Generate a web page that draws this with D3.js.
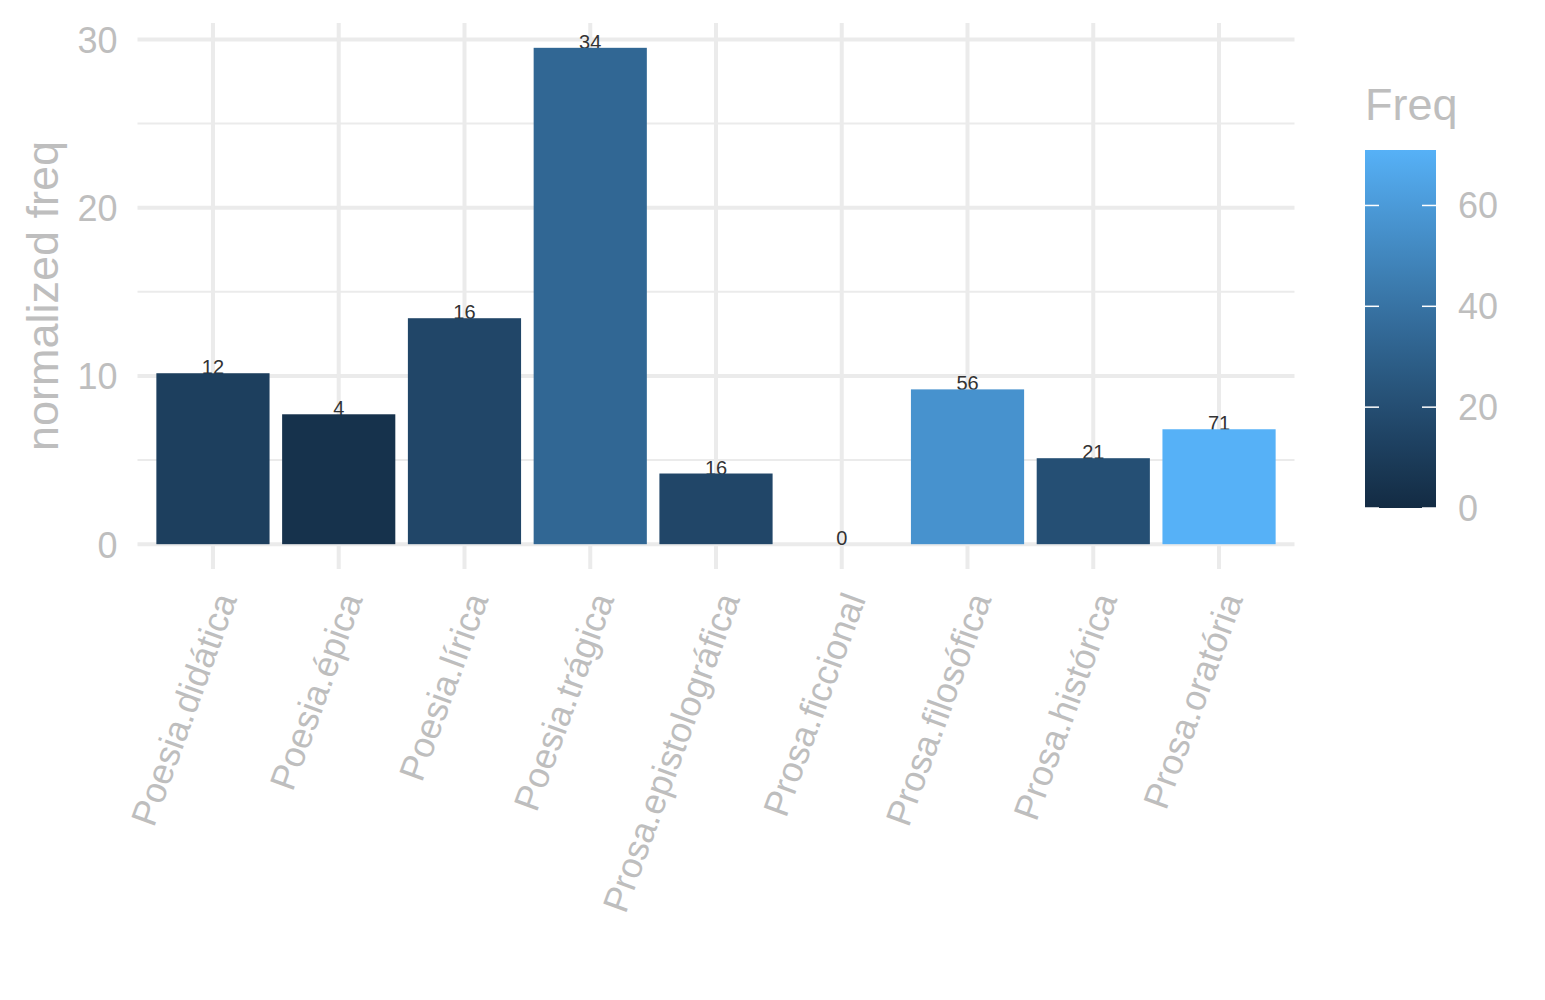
<!DOCTYPE html>
<html lang="pt">
<head>
<meta charset="UTF-8">
<title>normalized freq</title>
<script src="https://d3js.org/d3.v7.min.js"></script>
<style>
  body { margin: 0; background: #fff; }
  text { font-family: "Liberation Sans", Arial, sans-serif; }
</style>
</head>
<body>
<div id="chart"></div>
<script>
// data
var categories = ["Poesia.didática", "Poesia.épica", "Poesia.lírica", "Poesia.trágica",
                  "Prosa.epistolográfica", "Prosa.ficcional", "Prosa.filosófica",
                  "Prosa.histórica", "Prosa.oratória"];
var normFreq = [10.16, 7.72, 13.43, 29.5, 4.2, 0, 9.2, 5.11, 6.83];
var freq = [12, 4, 16, 34, 16, 0, 56, 21, 71];
var yTicks = [0, 10, 20, 30];
var yMinorTicks = [5, 15, 25];
var legendTicks = [0, 20, 40, 60];

var width = 1545, height = 1000;
var panel = { left: 137.5, right: 1294.5, top: 23, bottom: 569 };
var textGrey = "#bebebe", gridGrey = "#ebebeb";

var svg = d3.select("#chart").append("svg")
    .attr("width", width)
    .attr("height", height);

// ggplot-like expansion: 0.6 band on each side for discrete, 5% for continuous
var x = d3.scaleBand()
    .domain(categories)
    .range([panel.left, panel.right])
    .paddingInner(0.1)
    .paddingOuter(0.15);

var yMax = d3.max(normFreq);
var y = d3.scaleLinear()
    .domain([-0.05 * yMax, yMax * 1.05])
    .range([panel.bottom, panel.top]);

var color = d3.scaleLinear()
    .domain([0, d3.max(freq)])
    .range(["#132B43", "#56B1F7"])
    .interpolate(d3.interpolateLab);

// grid
var grid = svg.append("g");
grid.selectAll(".minor").data(yMinorTicks).enter().append("line")
    .attr("x1", panel.left).attr("x2", panel.right)
    .attr("y1", d => y(d)).attr("y2", d => y(d))
    .attr("stroke", gridGrey).attr("stroke-width", 2);
grid.selectAll(".major").data(yTicks).enter().append("line")
    .attr("x1", panel.left).attr("x2", panel.right)
    .attr("y1", d => y(d)).attr("y2", d => y(d))
    .attr("stroke", gridGrey).attr("stroke-width", 4);
grid.selectAll(".vert").data(categories).enter().append("line")
    .attr("x1", d => x(d) + x.bandwidth() / 2).attr("x2", d => x(d) + x.bandwidth() / 2)
    .attr("y1", panel.top).attr("y2", panel.bottom)
    .attr("stroke", gridGrey).attr("stroke-width", 4);

// value labels (drawn under the bars, like the original)
svg.append("g").selectAll("text").data(categories).enter().append("text")
    .attr("x", d => x(d) + x.bandwidth() / 2)
    .attr("y", (d, i) => y(normFreq[i]) + 1)
    .attr("text-anchor", "middle")
    .attr("font-size", 20)
    .attr("fill", "#333")
    .text((d, i) => freq[i]);

// bars
svg.append("g").selectAll("rect").data(categories).enter().append("rect")
    .attr("x", d => x(d))
    .attr("width", x.bandwidth())
    .attr("y", (d, i) => y(normFreq[i]))
    .attr("height", (d, i) => y(0) - y(normFreq[i]))
    .attr("fill", (d, i) => color(freq[i]));

// y axis
var yAxis = svg.append("g")
    .attr("transform", "translate(" + (panel.left - 20) + ",0)")
    .call(d3.axisLeft(y).tickValues(yTicks).tickSize(0).tickPadding(0));
yAxis.select(".domain").remove();
yAxis.selectAll("text")
    .attr("font-size", 36)
    .attr("fill", textGrey)
    .attr("dy", "0.36em")
    .style("font-family", "'Liberation Sans', Arial, sans-serif");

svg.append("text")
    .attr("transform", "translate(58," + ((panel.top + panel.bottom) / 2) + ") rotate(-90)")
    .attr("text-anchor", "middle")
    .attr("font-size", 45)
    .attr("fill", textGrey)
    .text("normalized freq");

// x axis, rotated labels
var xAxis = svg.append("g")
    .attr("transform", "translate(0," + 590 + ")")
    .call(d3.axisBottom(x).tickSize(0).tickPadding(0));
xAxis.select(".domain").remove();
xAxis.selectAll("text")
    .attr("font-size", 36)
    .attr("fill", textGrey)
    .attr("text-anchor", "end")
    .attr("y", 0)
    .attr("dy", "0.72em")
    .attr("transform", "rotate(-70)")
    .style("font-family", "'Liberation Sans', Arial, sans-serif");

// legend colourbar
var bar = { x: 1365, w: 71, top: 150, bottom: 508 };
var ly = d3.scaleLinear().domain([0, d3.max(freq)]).range([bar.bottom, bar.top]);

var defs = svg.append("defs");
var grad = defs.append("linearGradient")
    .attr("id", "freqGrad")
    .attr("x1", 0).attr("x2", 0).attr("y1", 1).attr("y2", 0);
grad.selectAll("stop").data(d3.range(0, 1.0001, 0.1)).enter().append("stop")
    .attr("offset", d => d)
    .attr("stop-color", d => color(d * d3.max(freq)));

svg.append("text")
    .attr("x", bar.x).attr("y", 120)
    .attr("font-size", 45)
    .attr("fill", textGrey)
    .text("Freq");

svg.append("rect")
    .attr("x", bar.x).attr("y", bar.top)
    .attr("width", bar.w).attr("height", bar.bottom - bar.top)
    .attr("fill", "url(#freqGrad)");

var lt = svg.append("g");
lt.selectAll(".tl").data(legendTicks).enter().append("line")
    .attr("x1", bar.x).attr("x2", bar.x + 14)
    .attr("y1", d => ly(d)).attr("y2", d => ly(d))
    .attr("stroke", "#fff").attr("stroke-width", 1.5);
lt.selectAll(".tr").data(legendTicks).enter().append("line")
    .attr("x1", bar.x + bar.w - 14).attr("x2", bar.x + bar.w)
    .attr("y1", d => ly(d)).attr("y2", d => ly(d))
    .attr("stroke", "#fff").attr("stroke-width", 1.5);
lt.selectAll("text").data(legendTicks).enter().append("text")
    .attr("x", bar.x + bar.w + 22)
    .attr("y", d => ly(d))
    .attr("dy", "0.36em")
    .attr("font-size", 36)
    .attr("fill", textGrey)
    .text(d => d);
</script>
</body>
</html>
